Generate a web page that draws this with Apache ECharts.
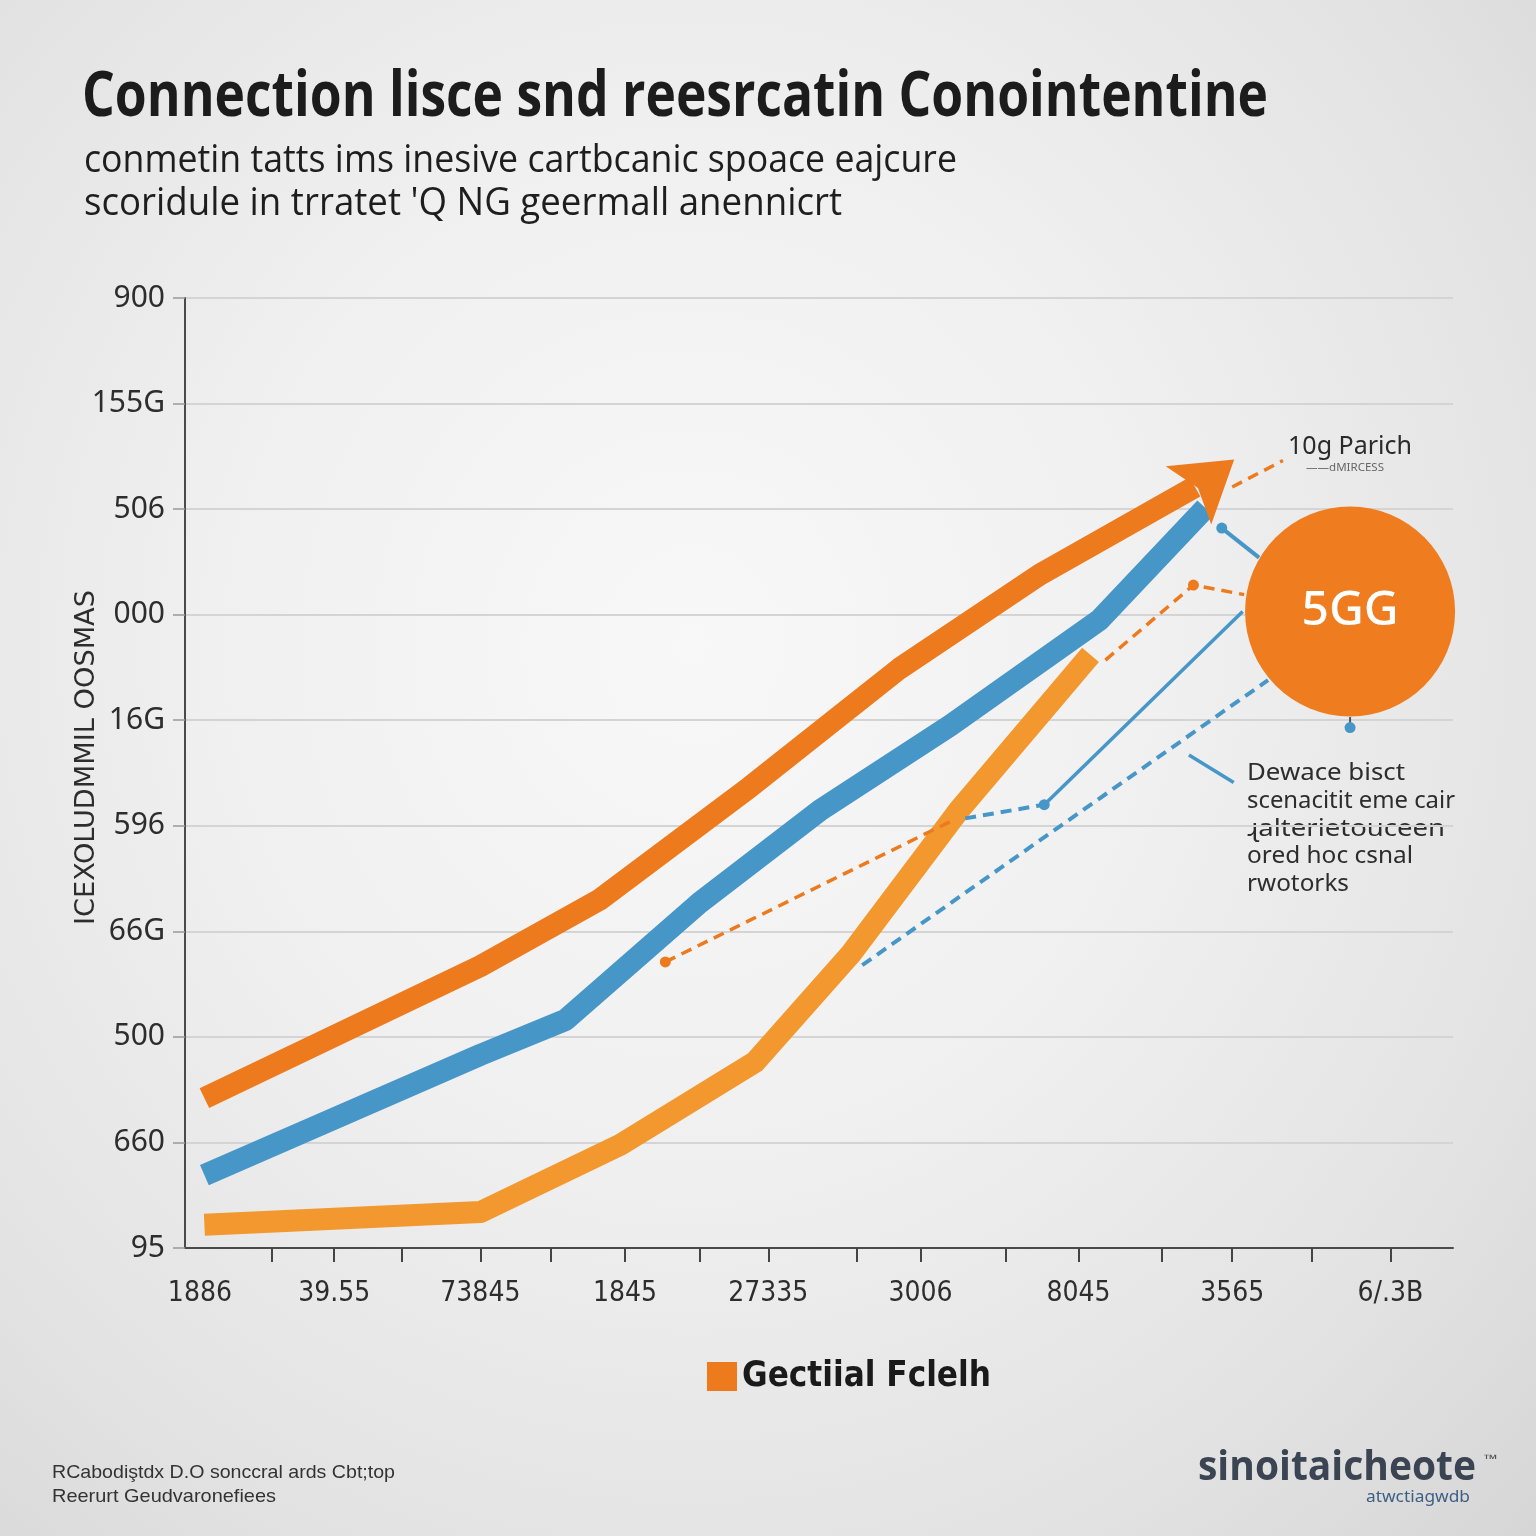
<!DOCTYPE html>
<html>
<head>
<meta charset="utf-8">
<script src="https://cdn.jsdelivr.net/npm/echarts@6/dist/echarts.min.js"></script>
<style>
html,body{margin:0;padding:0;width:1536px;height:1536px;overflow:hidden;
background:radial-gradient(ellipse at 45% 42%, #f8f8f8 0%, #f0f0f0 40%, #e3e3e3 75%, #d6d6d6 100%);}
#chart{width:1536px;height:1536px;}
</style>
</head>
<body>
<div id="chart"></div>
<script>
// ---------- DATA ----------
const titleText = 'Connection lisce snd reesrcatin Conointentine';
const subtitleLines = ['conmetin tatts ims inesive cartbcanic spoace eajcure',
                       "scoridule in trratet 'Q NG geermall anennicrt"];
const yAxisName = 'ICEXOLUDMMIL OOSMAS';
const yLabels = ['95', '660', '500', '66G', '596', '16G', '000', '506', '155G', '900'];
const xLabelPos = [0, 0.90, 1.88, 2.85, 3.81, 4.83, 5.89, 6.92, 7.98];
const xLabels = ['1886', '39.55', '73845', '1845', '27335', '3006', '8045', '3565', '6/.3B'];
const xTickPos = [0.48, 0.90, 1.35, 1.88, 2.35, 2.85, 3.35, 3.81, 4.40, 4.83, 5.40, 5.89, 6.45, 6.92, 7.45, 7.98];

const legendName = 'Gectiial Fclelh';
// thick series
const mainOrange = [[0.03, 1.42], [1.88, 2.67], [2.68, 3.30], [3.69, 4.37], [4.69, 5.49], [5.63, 6.38], [6.67, 7.21]];
const arrowHead = [[6.78, 7.30]];
const blueLine = [[0.03, 0.69], [1.88, 1.83], [2.45, 2.16], [3.35, 3.27], [4.16, 4.15], [5.03, 4.95], [6.03, 5.95], [6.74, 7.01]];
const lightOrange = [[0.03, 0.22], [1.88, 0.34], [2.82, 0.98], [3.72, 1.76], [4.36, 2.78], [5.09, 4.15], [5.97, 5.62]];
// thin connectors
const dashOrangeA = [[3.12, 2.71], [5.03, 4.04]];
const dashBlueA = [[5.13, 4.07], [5.66, 4.20]];
const solidBlueA = [[5.66, 4.20], [6.99, 6.03]];
const dashBlueLong = [[4.44, 2.68], [7.16, 5.38]];
const dashOrangeB = [[6.07, 5.57], [6.66, 6.28], [7.00, 6.19]];
const solidBlueB = [[6.85, 6.82], [7.10, 6.54]];
const dashOrangeC = [[6.92, 7.21], [7.26, 7.46]];
const solidBlueC = [[6.63, 4.67], [6.93, 4.41]];
const stem = [[7.71, 5.03], [7.71, 4.93]];
const dotsBlue = [[5.66, 4.20], [6.85, 6.82], [7.71, 4.93]];
const dotsOrange = [[3.12, 2.71], [6.66, 6.28]];
const badge = [[7.71, 6.03]];
const badgeText = '5GG';

const noteTop = '10g Parich';
const noteTopSmall = '\u2014\u2014dMIRCESS';
const noteLines = ['Dewace bisct', 'scenacitit eme cair', '\u027Balterietouceen', 'ored hoc csnal', 'rwotorks'];
const footerLines = ['RCabodi\u015Ftdx D.O sonccral ards Cbt;top', 'Reerurt Geudvaronefiees'];
const logoText = 'sinoitaicheote';
const logoSub = 'atwctiagwdb';

// ---------- HELPERS ----------
const mctx = document.createElement('canvas').getContext('2d');
function measure(text, size, family, weight) {
  mctx.font = (weight || 'normal') + ' ' + size + 'px ' + family;
  return mctx.measureText(text).width;
}
function fitText(text, x, y, size, family, weight, width, color, extra) {
  const w = measure(text, size, family, weight);
  return Object.assign({
    type: 'text', x: x, y: y, scaleX: width / w,
    style: { text: text, fontSize: size, fontFamily: family, fontWeight: weight || 'normal',
             fill: color, align: 'left', verticalAlign: 'middle' }
  }, extra || {});
}
const ORANGE = '#EE7A1E', LORANGE = '#F2982E', BLUE = '#4796C8';
const NARROW = '"Liberation Sans Narrow","DejaVu Sans Condensed",sans-serif';

const chart = echarts.init(document.getElementById('chart'), null, { renderer: 'canvas' });

function thin(data, color, width, dashed, z) {
  return { type: 'line', data: data, symbol: 'none', silent: true, z: z || 4,
    lineStyle: { color: color, width: width, type: dashed ? [11, 7] : 'solid', cap: 'butt' } };
}

const legendSize = Math.min(40, 40 * 249 / measure(legendName, 40, NARROW, 'bold'));

const option = {
  backgroundColor: 'transparent',
  animation: false,
  grid: { left: 185, right: 83, top: 298, bottom: 288, containLabel: false },
  legend: {
    data: [{ name: legendName, icon: 'rect' }],
    left: 702, top: 1354, itemWidth: 30, itemHeight: 29, itemGap: 15,
    textStyle: { fontSize: legendSize, fontWeight: 'bold', fontFamily: NARROW, color: '#1a1a1a' }
  },
  xAxis: {
    type: 'value', min: -0.1, max: 8.4,
    axisLine: { show: true, onZero: false, lineStyle: { color: '#4a4a4a', width: 2 } },
    axisTick: { show: true, customValues: xTickPos, length: 14, lineStyle: { color: '#444', width: 2 } },
    axisLabel: {
      customValues: xLabelPos, margin: 32, fontSize: 28, fontFamily: NARROW, color: '#2d2d2d',
      formatter: function (v) {
        const i = xLabelPos.findIndex(p => Math.abs(p - v) < 1e-6);
        return i >= 0 ? xLabels[i] : '';
      }
    },
    splitLine: { show: false }
  },
  yAxis: {
    type: 'value', min: 0, max: 9, interval: 1,
    axisLine: { show: true, onZero: false, lineStyle: { color: '#4a4a4a', width: 2 } },
    axisTick: { show: true, length: 12, lineStyle: { color: '#999', width: 1.5 } },
    axisLabel: {
      margin: 20, fontSize: 30, fontFamily: '"Noto Sans", sans-serif', color: '#2d2d2d',
      formatter: function (v) { return yLabels[Math.round(v)]; }
    },
    splitLine: { show: true, lineStyle: { color: '#d4d4d4', width: 2 } }
  },
  series: [
    { type: 'line', name: 'lightOrange', data: lightOrange, symbol: 'none', z: 2,
      lineStyle: { color: LORANGE, width: 22, cap: 'butt', join: 'round' } },
    { type: 'line', name: 'blue', data: blueLine, symbol: 'none', z: 3,
      lineStyle: { color: BLUE, width: 22, cap: 'butt', join: 'round' } },
    thin(dashOrangeA, ORANGE, 3.5, true),
    thin(dashBlueA, BLUE, 4, true),
    thin(solidBlueA, BLUE, 3.5, false),
    thin(dashBlueLong, BLUE, 4, true),
    thin(dashOrangeB, ORANGE, 3.5, true),
    thin(solidBlueB, BLUE, 4, false),
    thin(dashOrangeC, ORANGE, 3.5, true),
    thin(solidBlueC, BLUE, 3.5, false),
    thin(stem, '#555', 2, false),
    { type: 'line', name: legendName, data: mainOrange, symbol: 'none', z: 5,
      itemStyle: { color: ORANGE },
      lineStyle: { color: ORANGE, width: 22, cap: 'butt', join: 'round' } },
    { type: 'scatter', name: 'arrow', data: arrowHead, z: 6, silent: true,
      symbol: 'path://M0,0 L58,37 L0,74 L12,37 Z', symbolSize: [58, 74], symbolRotate: 38,
      itemStyle: { color: ORANGE, opacity: 1 } },
    { type: 'scatter', name: 'dotsBlue', data: dotsBlue, z: 6, symbolSize: 11, itemStyle: { color: BLUE, opacity: 1 } },
    { type: 'scatter', name: 'dotsOrange', data: dotsOrange, z: 6, symbolSize: 11, itemStyle: { color: ORANGE, opacity: 1 } },
    { type: 'scatter', name: 'badge', data: badge, z: 7, symbolSize: 210, clip: false,
      itemStyle: { color: '#EF7C1E', opacity: 1 },
      label: { show: true, position: 'inside', formatter: badgeText, fontSize: 48, fontWeight: 500,
               fontFamily: '"Noto Sans", sans-serif', color: '#ffffff' } }
  ],
  graphic: [
    fitText(titleText, 82, 98, 62, '"Open Sans", sans-serif', 'bold', 1186, '#1c1c1c'),
    fitText(subtitleLines[0], 84, 161, 38, '"Open Sans", sans-serif', 'normal', 873, '#1e1e1e'),
    fitText(subtitleLines[1], 84, 204, 38, '"Open Sans", sans-serif', 'normal', 758, '#1e1e1e'),
    fitText(yAxisName, 87, 925, 26, NARROW, 'normal', 335, '#2d2d2d', { rotation: Math.PI / 2 }),
    fitText(noteTop, 1288, 447, 26, '"Noto Sans", sans-serif', 'normal', 124, '#2a2a2a'),
    fitText(noteTopSmall, 1306, 468, 11, '"Noto Sans", sans-serif', 'normal', 78, '#666'),
    fitText(noteLines[0], 1247, 773, 23, '"Noto Sans", sans-serif', 'normal', 158, '#2d2d2d'),
    fitText(noteLines[1], 1247, 801, 23, '"Noto Sans", sans-serif', 'normal', 208, '#2d2d2d'),
    fitText(noteLines[2], 1247, 829, 23, '"Noto Sans", sans-serif', 'normal', 198, '#2d2d2d'),
    fitText(noteLines[3], 1247, 856, 23, '"Noto Sans", sans-serif', 'normal', 166, '#2d2d2d'),
    fitText(noteLines[4], 1247, 884, 23, '"Noto Sans", sans-serif', 'normal', 102, '#2d2d2d'),
    fitText(footerLines[0], 52, 1473, 19, '"Liberation Sans", sans-serif', 'normal', 343, '#333'),
    fitText(footerLines[1], 52, 1497, 19, '"Liberation Sans", sans-serif', 'normal', 224, '#333'),
    fitText(logoText, 1198, 1468, 42, '"Open Sans", sans-serif', 'bold', 278, '#3b4452'),
    fitText('\u2122', 1484, 1460, 12, '"Noto Sans", sans-serif', 'normal', 14, '#555'),
    fitText(logoSub, 1366, 1497, 17, '"Noto Sans", sans-serif', 'normal', 104, '#3d5f85')
  ]
};
chart.setOption(option);
</script>
</body>
</html>
